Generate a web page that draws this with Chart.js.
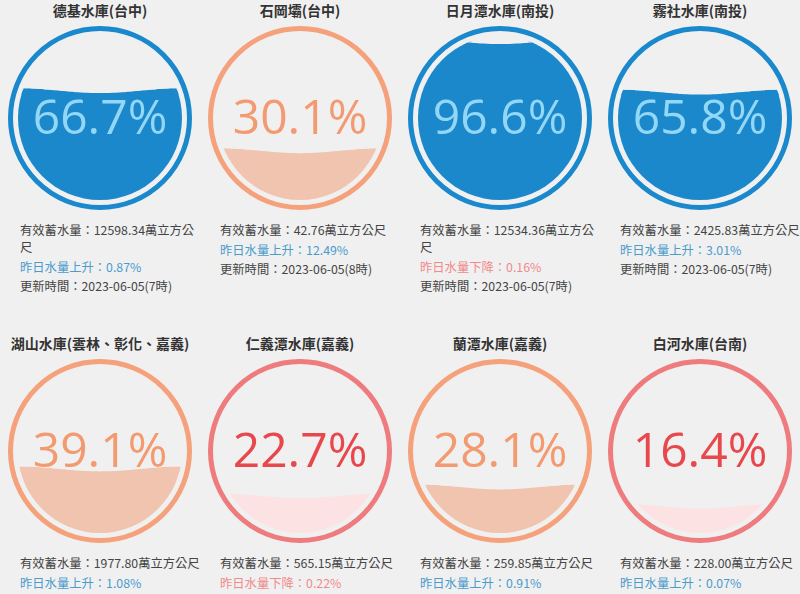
<!DOCTYPE html>
<html>
<head>
<meta charset="utf-8">
<script src="https://cdn.jsdelivr.net/npm/chart.js@4.4.0/dist/chart.umd.min.js"></script>
<style>
    html, body { margin: 0; padding: 0; background: #f0f0f0; overflow: hidden; }
    #board { position: relative; width: 800px; height: 594px; font-family: "Noto Sans CJK TC", "Noto Sans", sans-serif; }
    .cell { position: absolute; width: 200px; height: 333px; }
    .cell .title { position: absolute; top: 0; left: 0; width: 200px; text-align: center; font-size: 14px; font-weight: bold; line-height: 20px; color: #333; white-space: nowrap; }
    .cell canvas { position: absolute; top: 18px; left: 0; }
    .cell .pct { position: absolute; top: 92px; left: 0; width: 200px; text-align: center; font-family: "Open Sans", sans-serif; font-size: 48px; line-height: 48px; }
    .cell .info { position: absolute; top: 222px; left: 20px; width: 182px; font-size: 12.3px; line-height: 17px; color: #444; }
    .cell .info div { margin-bottom: 2.5px; }
</style>
</head>
<body>
<div id="board"></div>
<script>
// reservoir data
const names = ["德基水庫(台中)", "石岡壩(台中)", "日月潭水庫(南投)", "霧社水庫(南投)",
               "湖山水庫(雲林、彰化、嘉義)", "仁義潭水庫(嘉義)", "蘭潭水庫(嘉義)", "白河水庫(台南)"];
const levels = [66.7, 30.1, 96.6, 65.8, 39.1, 22.7, 28.1, 16.4];
const storage = ["12598.34", "42.76", "12534.36", "2425.83", "1977.80", "565.15", "259.85", "228.00"];
const changeDir = ["上升", "上升", "下降", "上升", "上升", "下降", "上升", "上升"];
const changePct = ["0.87", "12.49", "0.16", "3.01", "1.08", "0.22", "0.91", "0.07"];
const updated = ["2023-06-05(7時)", "2023-06-05(8時)", "2023-06-05(7時)", "2023-06-05(7時)", null, null, null, null];

const themes = {
    blue:   { ring: "#1a88cc", fill: "#1b88cc", text: "#92d7f6" },
    orange: { ring: "#f5a17b", fill: "#f1c4b0", text: "#f39a70" },
    red:    { ring: "#ee7b7d", fill: "#fde2e3", text: "#e8474b" }
};
function themeFor(v) {
    if (v >= 50) return themes.blue;
    if (v >= 25) return themes.orange;
    return themes.red;
}

// ring + circular clip + wavy water surface
const gaugePlugin = {
    id: "gauge",
    beforeDraw(chart) {
        const a = chart.chartArea;
        const ctx = chart.ctx;
        const cx = (a.left + a.right) / 2, cy = (a.top + a.bottom) / 2;
        const r = (a.right - a.left) / 2;
        ctx.save();
        ctx.beginPath();
        ctx.arc(cx, cy, r + 7.5, 0, Math.PI * 2);
        ctx.strokeStyle = chart.options.plugins.gauge.ring;
        ctx.lineWidth = 5;
        ctx.stroke();
        ctx.restore();
    },
    beforeDatasetsDraw(chart) {
        const a = chart.chartArea;
        const ctx = chart.ctx;
        ctx.save();
        ctx.beginPath();
        ctx.arc((a.left + a.right) / 2, (a.top + a.bottom) / 2, (a.right - a.left) / 2, 0, Math.PI * 2);
        ctx.clip();
    },
    afterDatasetsDraw(chart) {
        const a = chart.chartArea;
        const ctx = chart.ctx;
        const y0 = chart.scales.y.getPixelForValue(chart.data.datasets[0].data[0]);
        const amp = 2.5, w = a.right - a.left;
        const waveY = x => y0 + amp * Math.sin(2 * Math.PI * (x - a.left) / w - Math.PI / 2);
        // crest above the bar top
        ctx.beginPath();
        ctx.moveTo(a.left, y0 + amp + 1);
        for (let x = a.left; x <= a.right; x += 2) ctx.lineTo(x, waveY(x));
        ctx.lineTo(a.right, y0 + amp + 1);
        ctx.closePath();
        ctx.fillStyle = chart.options.plugins.gauge.fill;
        ctx.fill();
        // cut the troughs out
        ctx.globalCompositeOperation = "destination-out";
        ctx.beginPath();
        ctx.moveTo(a.left, a.top - 5);
        for (let x = a.left; x <= a.right; x += 2) ctx.lineTo(x, waveY(x));
        ctx.lineTo(a.right, a.top - 5);
        ctx.closePath();
        ctx.fill();
        ctx.restore();
    }
};

const board = document.getElementById("board");
names.forEach((name, i) => {
    const t = themeFor(levels[i]);
    const cell = document.createElement("div");
    cell.className = "cell";
    cell.style.left = (i % 4) * 200 + "px";
    cell.style.top = Math.floor(i / 4) * 333 + "px";

    const title = document.createElement("div");
    title.className = "title";
    title.textContent = name;
    cell.appendChild(title);

    const canvas = document.createElement("canvas");
    canvas.width = 200;
    canvas.height = 200;
    cell.appendChild(canvas);

    const pct = document.createElement("div");
    pct.className = "pct";
    pct.style.color = t.text;
    pct.textContent = levels[i].toFixed(1) + "%";
    cell.appendChild(pct);

    const info = document.createElement("div");
    info.className = "info";
    const l1 = document.createElement("div");
    l1.textContent = "有效蓄水量：" + storage[i] + "萬立方公尺";
    info.appendChild(l1);
    const l2 = document.createElement("div");
    l2.textContent = "昨日水量" + changeDir[i] + "：" + changePct[i] + "%";
    l2.style.color = changeDir[i] === "上升" ? "#4b9bcc" : "#f08a8c";
    info.appendChild(l2);
    if (updated[i]) {
        const l3 = document.createElement("div");
        l3.textContent = "更新時間：" + updated[i];
        info.appendChild(l3);
    }
    cell.appendChild(info);
    board.appendChild(cell);

    new Chart(canvas.getContext("2d"), {
        type: "bar",
        data: {
            labels: [name],
            datasets: [{
                data: [levels[i]],
                backgroundColor: t.fill,
                borderWidth: 0,
                barPercentage: 1,
                categoryPercentage: 1
            }]
        },
        options: {
            responsive: false,
            animation: false,
            layout: { padding: 18 },
            scales: {
                x: { display: false },
                y: { display: false, min: 0, max: 100 }
            },
            plugins: {
                legend: { display: false },
                tooltip: { enabled: false },
                gauge: { ring: t.ring, fill: t.fill }
            }
        },
        plugins: [gaugePlugin]
    });
});
</script>
</body>
</html>
